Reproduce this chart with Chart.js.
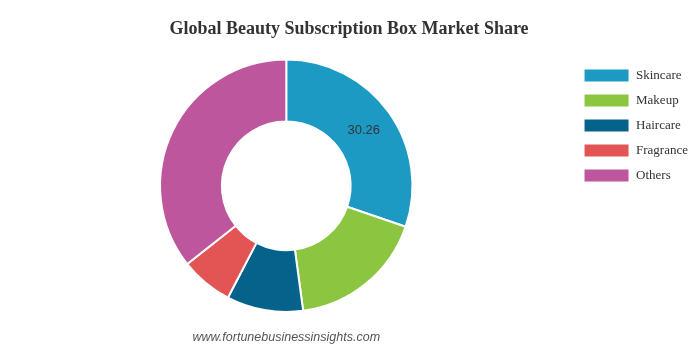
<!DOCTYPE html>
<html lang="en">
<head>
    <meta charset="UTF-8">
    <title>Global Beauty Subscription Box Market Share</title>
    <style>
        html, body { margin: 0; padding: 0; background: #fff; }
        #wrap { width: 700px; height: 348px; position: relative; }
    </style>
</head>
<body>
    <div id="wrap">
        <canvas id="myChart"></canvas>
    </div>

    <script src="https://cdn.jsdelivr.net/npm/chart.js"></script>
    <script>
        // chart data
        const categories = ['Skincare', 'Makeup', 'Haircare', 'Fragrance', 'Others'];
        const shares = [30.26, 17.6, 9.8, 6.7, 35.64];
        const sliceColors = ['#1c9ac4', '#8cc540', '#05628a', '#e35555', '#bd569c'];
        const labelledSlices = [0]; // only the first slice shows its value
        const sourceText = 'www.fortunebusinessinsights.com';

        // value label on the slice + source line under the doughnut
        const extrasPlugin = {
            id: 'extras',
            afterDatasetsDraw(chart) {
                const ctx = chart.ctx;
                const meta = chart.getDatasetMeta(0);
                ctx.save();
                ctx.fillStyle = '#333';
                ctx.font = '13px "Liberation Sans", Arial, sans-serif';
                ctx.textAlign = 'center';
                ctx.textBaseline = 'middle';
                labelledSlices.forEach(i => {
                    const pos = meta.data[i].tooltipPosition();
                    ctx.fillText(String(shares[i]), pos.x, pos.y);
                });
                const area = chart.chartArea;
                ctx.fillStyle = '#555';
                ctx.font = 'italic 12.5px "Liberation Sans", Arial, sans-serif';
                ctx.fillText(sourceText, (area.left + area.right) / 2, 338);
                ctx.restore();
            }
        };

        const ctx = document.getElementById('myChart').getContext('2d');
        const myChart = new Chart(ctx, {
            type: 'doughnut',
            data: {
                labels: categories,
                datasets: [{
                    data: shares,
                    backgroundColor: sliceColors,
                    borderColor: '#fff',
                    borderWidth: 2
                }]
            },
            options: {
                responsive: true,
                maintainAspectRatio: false,
                animation: false,
                cutout: '51%',
                layout: { padding: { left: 0, right: 2, top: 0, bottom: 35 } },
                plugins: {
                    title: {
                        display: true,
                        text: 'Global Beauty Subscription Box Market Share',
                        color: '#333',
                        font: { family: '"Liberation Serif", "Times New Roman", serif', size: 18, weight: 'bold' },
                        padding: { top: 19, bottom: 18 }
                    },
                    legend: {
                        position: 'right',
                        align: 'start',
                        // empty title only pushes the items down below the chart title
                        title: {
                            display: true,
                            text: ' ',
                            font: { size: 13 },
                            padding: { top: 42, bottom: 0 }
                        },
                        labels: {
                            boxWidth: 46,
                            boxHeight: 14,
                            padding: 11,
                            color: '#333',
                            font: { family: '"Liberation Serif", "Times New Roman", serif', size: 13 }
                        }
                    },
                    tooltip: { enabled: false }
                }
            },
            plugins: [extrasPlugin]
        });
    </script>
</body>
</html>
